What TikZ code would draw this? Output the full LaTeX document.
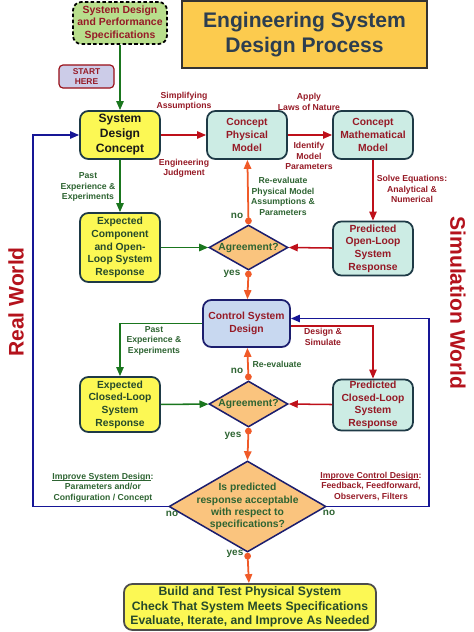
\documentclass[tikz,border=0pt]{standalone}
\usepackage{fontspec}
\setmainfont{Liberation Sans}
\usetikzlibrary{arrows.meta,shapes.geometric}

\definecolor{boxline}{RGB}{30,58,70}
\definecolor{navyline}{RGB}{28,30,110}
\definecolor{yellowfill}{RGB}{252,248,84}
\definecolor{tealfill}{RGB}{204,236,228}
\definecolor{bluefill}{RGB}{200,216,240}
\definecolor{diafill}{RGB}{250,196,126}
\definecolor{specfill}{RGB}{184,222,140}
\definecolor{startfill}{RGB}{204,204,232}
\definecolor{titlefill}{RGB}{252,203,78}
\definecolor{titletext}{RGB}{44,62,80}
\definecolor{textred}{RGB}{150,26,38}
\definecolor{textgreen}{RGB}{46,100,50}
\definecolor{textdark}{RGB}{38,74,44}
\definecolor{worldred}{RGB}{180,18,28}
\definecolor{arrowgreen}{RGB}{26,118,30}
\definecolor{arrowred}{RGB}{190,16,26}
\definecolor{arroworange}{RGB}{240,90,40}
\definecolor{arrowblue}{RGB}{22,22,150}

% plain underline, sits just under the baseline
\newcommand\ulword[1]{\setbox0\hbox{#1}\rlap{\rule[-1.3pt]{\wd0}{0.5pt}}\box0}

\tikzset{
  box/.style={draw=boxline, line width=1.5pt, rounded corners=2.5mm,
    align=center, inner sep=0pt,
    font=\bfseries\fontsize{8.8}{10.8}\selectfont},
  realbox/.style={box, fill=yellowfill, text=textdark},
  simbox/.style={box, fill=tealfill, text=textred},
  decide/.style={diamond, draw=navyline, line width=1.3pt, fill=diafill,
    inner sep=0pt},
  dtext/.style={align=center, text=textgreen,
    font=\bfseries\fontsize{8.8}{10.5}\selectfont},
  lbl/.style={align=center, inner sep=0pt,
    font=\bfseries\fontsize{7.4}{8.9}\selectfont},
  glbl/.style={lbl, text=textgreen},
  rlbl/.style={lbl, text=textred},
  yn/.style={inner sep=0pt, text=textgreen,
    font=\bfseries\fontsize{8.5}{10}\selectfont},
  world/.style={text=worldred, font=\bfseries\fontsize{18}{20}\selectfont},
  tip/.style={-{Triangle[length=2.7mm,width=2.2mm]}},
  garrow/.style={draw=arrowgreen, line width=1.3pt, tip},
  rarrow/.style={draw=arrowred, line width=1.3pt, tip},
  barrow/.style={draw=arrowblue, line width=1.3pt, tip},
  oarrow/.style={draw=arroworange, line width=1.5pt,
    {Circle[length=2mm]}-{Triangle[length=2.7mm,width=2.2mm]}}
}

\begin{document}
\begin{tikzpicture}[x=0.03cm,y=-0.03cm]
  \useasboundingbox (0,0) rectangle (474,632);

  % top row
  \node[box, draw=black, densely dashed, fill=specfill, text=textred,
    minimum width=2.82cm, minimum height=1.26cm,
    font=\bfseries\fontsize{8.9}{10.6}\selectfont]
    (spec) at (120,23) {System Design\\and Performance\\Specifications};
  \node[draw=black!80, line width=1.2pt, fill=titlefill, text=titletext,
    align=center, minimum width=7.35cm, minimum height=2.01cm,
    font=\bfseries\fontsize{18}{21.3}\selectfont]
    (title) at (304.5,34.5) {Engineering System\\Design Process};
  \node[draw=arrowred!80!black, line width=1pt, rounded corners=1.2mm,
    fill=startfill, text=textred, align=center, minimum width=1.65cm,
    minimum height=0.69cm, inner sep=0pt,
    font=\bfseries\fontsize{7.2}{8.8}\selectfont]
    (start) at (86.5,76.5) {START\\HERE};

  % open loop
  \node[realbox, text=black!90, minimum width=2.4cm, minimum height=1.44cm,
    font=\bfseries\fontsize{10.3}{12.8}\selectfont]
    (sdc) at (120,135) {System\\Design\\Concept};
  \node[simbox, minimum width=2.4cm, minimum height=1.44cm]
    (cpm) at (247,135) {Concept\\Physical\\Model};
  \node[simbox, minimum width=2.4cm, minimum height=1.44cm]
    (cmm) at (373,135) {Concept\\Mathematical\\Model};
  \node[realbox, minimum width=2.4cm, minimum height=2.07cm]
    (ecomp) at (120,247.5) {Expected\\Component\\and Open-\\Loop System\\Response};
  \node[simbox, minimum width=2.4cm, minimum height=1.62cm]
    (pol) at (373,248.5) {Predicted\\Open-Loop\\System\\Response};
  \node[decide, minimum width=2.37cm, minimum height=1.35cm,
    label={[dtext]center:Agreement?}] (agree1) at (248.5,247.5) {};

  % closed loop
  \node[box, draw=navyline, fill=bluefill, text=textred,
    minimum width=2.61cm, minimum height=1.41cm]
    (csd) at (246.5,323.5) {Control System\\Design};
  \node[realbox, minimum width=2.4cm, minimum height=1.65cm]
    (ecl) at (120,404.5) {Expected\\Closed-Loop\\System\\Response};
  \node[simbox, minimum width=2.4cm, minimum height=1.53cm]
    (pcl) at (373,405) {Predicted\\Closed-Loop\\System\\Response};
  \node[decide, minimum width=2.37cm, minimum height=1.38cm,
    label={[dtext]center:Agreement?}] (agree2) at (248.5,404) {};

  % final check
  \node[decide, minimum width=4.71cm, minimum height=2.73cm,
    label={[dtext]center:Is predicted\\response acceptable\\with respect to\\specifications?}]
    (accept) at (247.5,506.5) {};
  \node[box, draw=black!70, fill=yellowfill, text=textdark,
    minimum width=7.56cm, minimum height=1.38cm,
    font=\bfseries\fontsize{10.4}{12.4}\selectfont]
    (build) at (250,607) {Build and Test Physical System\\Check That System Meets Specifications\\Evaluate, Iterate, and Improve As Needed};

  % side titles
  \node[world, rotate=90] (real) at (16,302) {Real World};
  \node[world, rotate=-90] (sim) at (458,303) {Simulation World};

  % connectors
  \draw[garrow] (spec) -- (sdc);
  \draw[rarrow] (sdc) -- (cpm);
  \draw[rarrow] (cpm) -- (cmm);
  \draw[rarrow] (cmm) -- (pol);
  \draw[garrow] (sdc) -- (ecomp);
  \draw[garrow] (ecomp) -- (agree1);
  \draw[rarrow] (pol) -- (agree1.east);
  \draw[oarrow] (agree1.north) -- (cpm);
  \draw[oarrow] (agree1.south) -- (csd);
  \draw[garrow] (csd.west) -| (ecl.north);
  \draw[rarrow] ([yshift=-2pt]csd.east) -| (pcl.north);
  \draw[garrow] (ecl) -- (agree2);
  \draw[rarrow] (pcl) -- (agree2.east);
  \draw[oarrow] (agree2.north) -- (csd);
  \draw[oarrow] (agree2.south) -- (accept.north);
  \draw[oarrow] (accept.south) -- (build);

  % loops back
  \coordinate (realcorner) at (33,135);
  \coordinate (simcorner) at (429,318.5);
  \draw[barrow] (accept.west) -| (realcorner) -- (sdc.west);
  \draw[barrow] (accept.east) -| (simcorner) -- (csd.east |- simcorner);

  % arrow labels
  \node[rlbl] (simp) at (184,101) {Simplifying\\Assumptions};
  \node[rlbl] (judg) at (184,168) {Engineering\\Judgment};
  \node[rlbl] (laws) at (309,102) {Apply\\Laws of Nature};
  \node[rlbl] (ident) at (309,156) {Identify\\Model\\Parameters};
  \node[rlbl] (solve) at (412,189) {Solve Equations:\\Analytical \&\\Numerical};
  \node[glbl] (past1) at (88,187) {Past\\Experience \&\\Experiments};
  \node[glbl] (reeval1) at (283,196.5) {Re-evaluate\\Physical Model\\Assumptions \&\\Parameters};
  \node[rlbl] (dsim) at (323,337) {Design \&\\Simulate};
  \node[glbl] (past2) at (154,340.5) {Past\\Experience \&\\Experiments};
  \node[glbl] (reeval2) at (277,364) {Re-evaluate};
  \node[glbl] (impsys) at (103,487.5) {\ulword{Improve System Design}:\\Parameters and/or\\Configuration / Concept};
  \node[rlbl] (impctrl) at (371,486.5) {\ulword{Improve Control Design}:\\Feedback, Feedforward,\\Observers, Filters};

  % yes / no
  \node[yn] (no1) at (237,216) {no};
  \node[yn] (yes1) at (232,274) {yes};
  \node[yn] (no2) at (237,371) {no};
  \node[yn] (yes2) at (233,436) {yes};
  \node[yn] (no3) at (172,514) {no};
  \node[yn] (no4) at (329,513) {no};
  \node[yn] (yes3) at (235,554) {yes};
\end{tikzpicture}
\end{document}
